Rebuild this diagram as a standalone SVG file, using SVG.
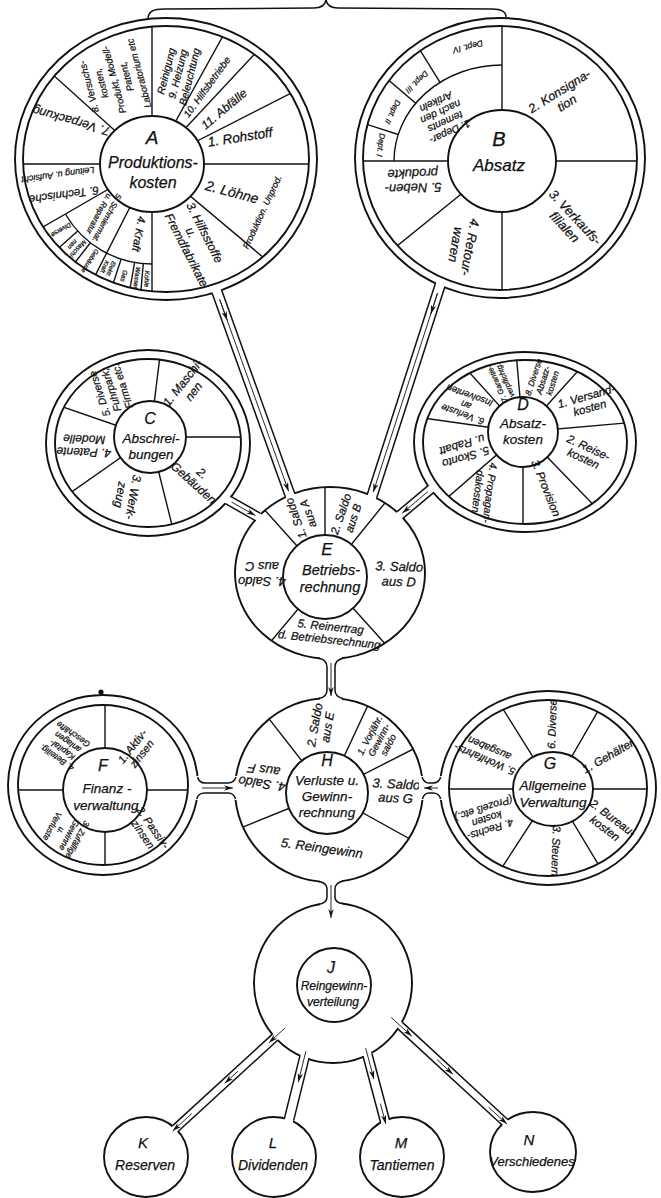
<svg xmlns="http://www.w3.org/2000/svg" width="661" height="1198" viewBox="0 0 661 1198">
<style>
.ln{stroke:#111;stroke-width:1.4;fill:none}
.rg{stroke:#111;stroke-width:1.9;fill:none}
.hub{stroke:#111;stroke-width:1.9;fill:#fff}
.t{font-family:'Liberation Sans',Arial,sans-serif;font-style:italic;fill:#111;stroke:#111;stroke-width:0.25;text-anchor:middle}
.ts{text-anchor:start}
.wall{stroke:#111;stroke-width:1.5;fill:none}
.gap{stroke:#fff;stroke-linecap:butt;fill:none}
.fl{stroke:#111;stroke-width:0.9;fill:none;marker-end:url(#ah)}
</style>
<defs>
<marker id="ah" viewBox="0 0 10 6" refX="10" refY="3" markerWidth="9" markerHeight="5.4" markerUnits="userSpaceOnUse" orient="auto"><path d="M0,0 L10,3 L0,6 L3,3 z" fill="#111"/></marker>
<clipPath id="cA"><ellipse cx="166" cy="159" rx="143" ry="133"/></clipPath>
<clipPath id="cB"><ellipse cx="500" cy="158" rx="137" ry="132"/></clipPath>
<clipPath id="cC"><ellipse cx="148" cy="443" rx="93" ry="84"/></clipPath>
<clipPath id="cD"><ellipse cx="525" cy="442" rx="102" ry="82"/></clipPath>
<clipPath id="cE"><ellipse cx="330" cy="573" rx="95" ry="86"/></clipPath>
<clipPath id="cF"><ellipse cx="103" cy="785" rx="85" ry="80"/></clipPath>
<clipPath id="cG"><ellipse cx="548" cy="788" rx="99" ry="88"/></clipPath>
<clipPath id="cH"><ellipse cx="329" cy="790" rx="94" ry="92"/></clipPath>
</defs>
<rect x="0" y="0" width="661" height="1198" fill="#fff"/>

<g id="brace"><path class="wall" d="M148,19 C148,11 154,9 164,9 L314,8 C321,8 325,5 326,0 M326,0 C327,5 331,8 338,8 L492,9 C501,9 506,11 506,17"/></g>

<g id="nodeA">
<ellipse class="rg" cx="166" cy="159" rx="151" ry="141"/>
<ellipse class="rg" cx="166" cy="159" rx="143" ry="133"/>
<g clip-path="url(#cA)" class="ln">
<line x1="152" y1="164" x2="402" y2="164"/>
<line x1="152" y1="164" x2="343.5" y2="324.7"/>
<line x1="152" y1="164" x2="152" y2="414"/>
<line x1="152" y1="164" x2="38.5" y2="386.8"/>
<line x1="152" y1="164" x2="-64.5" y2="289"/>
<line x1="152" y1="164" x2="-98" y2="164"/>
<line x1="152" y1="164" x2="-33.8" y2="-3.3"/>
<line x1="152" y1="164" x2="152" y2="-86"/>
<line x1="152" y1="164" x2="273.2" y2="-54.7"/>
<line x1="152" y1="164" x2="322.5" y2="-18.8"/>
<line x1="152" y1="164" x2="374.8" y2="50.5"/>
<path d="M152,264 A100,100 0 0 1 65.4,214"/>
<line x1="143.3" y1="263.6" x2="130.2" y2="413"/>
<line x1="134.6" y1="262.5" x2="108.6" y2="410.2"/>
<line x1="121.1" y1="259.1" x2="74.7" y2="401.8"/>
<line x1="90.4" y1="242.8" x2="-1.9" y2="361"/>
<line x1="77.7" y1="230.9" x2="-33.8" y2="331.3"/>
</g>
<ellipse class="hub" cx="152" cy="164" rx="52" ry="48"/>
<text class="t" font-size="19" x="152" y="144">A</text>
<text class="t" font-size="16" x="153" y="168">Produktions-</text>
<text class="t" font-size="16" x="153" y="188">kosten</text>
<text class="t" font-size="13.5" transform="translate(240,137) rotate(-9)" y="4.7">1. Rohstoff</text>
<text class="t" font-size="14" transform="translate(232,192) rotate(15)" y="4.9">2. Löhne</text>
<text class="t" font-size="9" transform="translate(262,212) rotate(-65)" y="3.2">Produktion. Unprod.</text>
<text class="t ts" font-size="12" transform="translate(186,205) rotate(63)"><tspan x="0" y="0">3. Hilfsstoffe</tspan><tspan x="22" y="12">u.</tspan><tspan x="0" y="24">Fremdfabrikate</tspan></text>
<text class="t" font-size="11" transform="translate(139,234) rotate(100)" y="3.9">4. Kraft</text>
<text class="t" font-size="8" transform="translate(103,216) rotate(118)"><tspan x="0" y="-1.7">5. Schmiermat.</tspan><tspan x="0" y="7.3">u. Reparatur</tspan></text>
<text class="t" font-size="6.5" transform="translate(147,279) rotate(92)" y="2.3">Kohle</text>
<text class="t" font-size="6.5" transform="translate(137,278) rotate(97)" y="2.3">Wasser</text>
<text class="t" font-size="6.5" transform="translate(124,276) rotate(104)" y="2.3">Gas</text>
<text class="t" font-size="6" transform="translate(108,268) rotate(113)"><tspan x="0" y="-1">Elektr.</tspan><tspan x="0" y="5.5">Kraft</tspan></text>
<text class="t" font-size="6.5" transform="translate(90,261) rotate(122)" y="2.3">Gebäude</text>
<text class="t" font-size="6.5" transform="translate(75,247) rotate(133)"><tspan x="0" y="-1.2">Maschi-</tspan><tspan x="0" y="5.8">nen</tspan></text>
<text class="t" font-size="6.5" transform="translate(61,230) rotate(150)" y="2.3">Diverse</text>
<text class="t" font-size="11.5" transform="translate(64,195) rotate(172)" y="4">6. Technische</text>
<text class="t" font-size="9" transform="translate(58,175) rotate(172)" y="3.2">Leitung u. Aufsicht</text>
<text class="t" font-size="12.5" transform="translate(71,121) rotate(196)" y="4.4">7. Verpackung</text>
<text class="t" font-size="9.5" transform="translate(114,80) rotate(-105)"><tspan x="0" y="-22.7">8. Versuchs-</tspan><tspan x="0" y="-9.7">kosten,</tspan><tspan x="0" y="3.3">Produkt, Modell-</tspan><tspan x="0" y="16.3">Patent,</tspan><tspan x="0" y="29.3">Laboratorium etc</tspan></text>
<text class="t" font-size="10.5" transform="translate(178,74) rotate(-76)"><tspan x="0" y="-8.5">Reinigung</tspan><tspan x="0" y="3.5">9. Heizung</tspan><tspan x="0" y="15.5">Beleuchtung</tspan></text>
<text class="t" font-size="10" transform="translate(207,87) rotate(-54)" y="3.5">10. Hilfsbetriebe</text>
<text class="t" font-size="12" transform="translate(224,109) rotate(-40)" y="4.2">11. Abfälle</text>
</g>

<g id="nodeB">
<ellipse class="rg" cx="500" cy="158" rx="145" ry="140"/>
<ellipse class="rg" cx="500" cy="158" rx="137" ry="132"/>
<g clip-path="url(#cB)" class="ln">
<line x1="502" y1="161" x2="752" y2="161"/>
<line x1="502" y1="161" x2="502" y2="411"/>
<line x1="502" y1="161" x2="307.7" y2="318.3"/>
<line x1="502" y1="161" x2="252" y2="161"/>
<line x1="502" y1="161" x2="502" y2="-89"/>
<path d="M394,161 A108,96 0 0 1 502,65"/>
<line x1="398.2" y1="134.5" x2="309.8" y2="105.9"/>
<line x1="415.7" y1="103.2" x2="342.3" y2="40.6"/>
<line x1="440" y1="82.4" x2="387.3" y2="-2.8"/>
</g>
<ellipse class="hub" cx="502" cy="161" rx="54" ry="51"/>
<text class="t" font-size="20" x="499" y="146">B</text>
<text class="t" font-size="17" x="499" y="171">Absatz</text>
<text class="t" font-size="10.5" transform="translate(443,117) rotate(155)"><tspan x="0" y="-12.8">1. Depar-</tspan><tspan x="0" y="-1.8">tements</tspan><tspan x="0" y="9.2">nach den</tspan><tspan x="0" y="20.2">Artikeln</tspan></text>
<text class="t" font-size="8" transform="translate(381,145) rotate(98)" y="2.8">Dept. I</text>
<text class="t" font-size="8" transform="translate(393,112) rotate(116)" y="2.8">Dept. II</text>
<text class="t" font-size="8" transform="translate(417,82) rotate(136)" y="2.8">Dept. III</text>
<text class="t" font-size="8.5" transform="translate(468,47) rotate(165)" y="3">Dept. IV</text>
<text class="t" font-size="12.5" transform="translate(563,97) rotate(-32)"><tspan x="0" y="-2.6">2. Konsigna-</tspan><tspan x="0" y="11.4">tion</tspan></text>
<text class="t" font-size="13" transform="translate(570,222) rotate(47)"><tspan x="0" y="-2.7">3. Verkaufs-</tspan><tspan x="0" y="11.8">filialen</tspan></text>
<text class="t" font-size="13" transform="translate(463,246) rotate(100)"><tspan x="0" y="-2.7">4. Retour-</tspan><tspan x="0" y="11.8">waren</tspan></text>
<text class="t" font-size="13" transform="translate(413,181) rotate(178)"><tspan x="0" y="-2.7">5. Neben-</tspan><tspan x="0" y="11.8">produkte</tspan></text>
</g>

<g id="nodeC">
<ellipse class="rg" cx="148" cy="443" rx="102" ry="93"/>
<ellipse class="rg" cx="148" cy="443" rx="93" ry="84"/>
<g clip-path="url(#cC)" class="ln">
<line x1="150" y1="437" x2="350" y2="437"/>
<line x1="150" y1="437" x2="198.4" y2="631"/>
<line x1="150" y1="437" x2="-13.8" y2="551.8"/>
<line x1="150" y1="437" x2="-39.2" y2="371.8"/>
<line x1="150" y1="437" x2="174.4" y2="238.4"/>
</g>
<circle class="hub" cx="150" cy="437" r="36"/>
<text class="t" font-size="16" x="150" y="424">C</text>
<text class="t" font-size="13.5" x="151" y="443">Abschrei-</text>
<text class="t" font-size="13.5" x="151" y="459">bungen</text>
<text class="t" font-size="12" transform="translate(188,387) rotate(-52)"><tspan x="0" y="-2.8">1. Maschi-</tspan><tspan x="0" y="11.2">nen</tspan></text>
<text class="t" font-size="12" transform="translate(198,478) rotate(42)"><tspan x="0" y="-2.3">2.</tspan><tspan x="0" y="10.7">Gebäuden</tspan></text>
<text class="t" font-size="12" transform="translate(127,496) rotate(100)"><tspan x="0" y="-2.3">3. Werk-</tspan><tspan x="0" y="10.7">zeug</tspan></text>
<text class="t" font-size="12" transform="translate(84,446) rotate(182)"><tspan x="0" y="-2.3">4. Patente</tspan><tspan x="0" y="10.7">Modelle</tspan></text>
<text class="t" font-size="10.5" transform="translate(111,390) rotate(-108)"><tspan x="0" y="-8.3">5. Diverse</tspan><tspan x="0" y="3.7">Fuhrpark,</tspan><tspan x="0" y="15.7">Firma etc.</tspan></text>
</g>

<g id="nodeD">
<ellipse class="rg" cx="525" cy="442" rx="111" ry="90"/>
<ellipse class="rg" cx="525" cy="442" rx="102" ry="82"/>
<g clip-path="url(#cD)" class="ln">
<line x1="523" y1="432" x2="722.2" y2="414.6"/>
<line x1="523" y1="432" x2="662" y2="575.8"/>
<line x1="523" y1="432" x2="523" y2="632"/>
<line x1="523" y1="432" x2="372" y2="563.2"/>
<line x1="523" y1="432" x2="325" y2="404.2"/>
<line x1="523" y1="432" x2="389.2" y2="283.4"/>
<line x1="523" y1="432" x2="505.6" y2="232.8"/>
<line x1="523" y1="432" x2="656.8" y2="283.4"/>
</g>
<circle class="hub" cx="523" cy="432" r="35"/>
<text class="t" font-size="16" x="523" y="410">D</text>
<text class="t" font-size="13.5" x="523" y="428">Absatz-</text>
<text class="t" font-size="13.5" x="523" y="444">kosten</text>
<text class="t" font-size="11.5" transform="translate(588,402) rotate(-16)"><tspan x="0" y="-2">1. Versand-</tspan><tspan x="0" y="10">kosten</tspan></text>
<text class="t" font-size="11.5" transform="translate(586,453) rotate(25)"><tspan x="0" y="-2">2. Reise-</tspan><tspan x="0" y="10">kosten</tspan></text>
<text class="t" font-size="11.5" transform="translate(546,488) rotate(68)" y="4">3. Provision</text>
<text class="t" font-size="10.5" transform="translate(484,492) rotate(97)"><tspan x="0" y="-2.3">4. Propagan-</tspan><tspan x="0" y="9.7">dakosten</tspan></text>
<text class="t" font-size="11.5" transform="translate(464,451) rotate(163)"><tspan x="0" y="-2.5">5. Skonto</tspan><tspan x="0" y="10.5">u. Rabatt</tspan></text>
<text class="t" font-size="9.5" transform="translate(466,405) rotate(200)"><tspan x="0" y="-6.7">6. Verluste</tspan><tspan x="0" y="3.3">an</tspan><tspan x="0" y="13.3">Insolventen</tspan></text>
<text class="t" font-size="7.5" transform="translate(501,382) rotate(-114)"><tspan x="0" y="-1.7">7. Garantie-</tspan><tspan x="0" y="7">verpflichtg.</tspan></text>
<text class="t" font-size="8.5" transform="translate(543,380) rotate(-72)"><tspan x="0" y="-7">8. Diverse</tspan><tspan x="0" y="3">Absatz-</tspan><tspan x="0" y="13">kosten</tspan></text>
</g>

<g id="nodeE">
<ellipse class="rg" cx="330" cy="573" rx="95" ry="86"/>
<g clip-path="url(#cE)" class="ln">
<line x1="325" y1="577" x2="191.2" y2="428.4"/>
<line x1="325" y1="577" x2="325" y2="377"/>
<line x1="325" y1="577" x2="450.8" y2="421.6"/>
<line x1="325" y1="577" x2="458.8" y2="725.6"/>
<line x1="325" y1="577" x2="196.4" y2="730.2"/>
</g>
<circle class="hub" cx="325" cy="577" r="42"/>
<text class="t" font-size="17" x="327" y="555">E</text>
<text class="t" font-size="14.5" x="331" y="575">Betriebs-</text>
<text class="t" font-size="14.5" x="330" y="592">rechnung</text>
<text class="t" font-size="11.5" transform="translate(302,516) rotate(-110)"><tspan x="0" y="-2.5">1. Saldo</tspan><tspan x="0" y="10.5">aus A</tspan></text>
<text class="t" font-size="11.5" transform="translate(347,516) rotate(-71)"><tspan x="0" y="-2.5">2. Saldo</tspan><tspan x="0" y="10.5">aus B</tspan></text>
<text class="t" font-size="13" transform="translate(399,574) rotate(2)"><tspan x="0" y="-3">3. Saldo</tspan><tspan x="0" y="12">aus D</tspan></text>
<text class="t" font-size="13" transform="translate(262,574) rotate(180)"><tspan x="0" y="-3">4. Saldo</tspan><tspan x="0" y="12">aus C</tspan></text>
<text class="t" font-size="11.5" transform="translate(330,633) rotate(6)"><tspan x="0" y="-2.5">5. Reinertrag</tspan><tspan x="0" y="10.5">d. Betriebsrechnung</tspan></text>
</g>

<g id="nodeF">
<ellipse class="rg" cx="103" cy="785" rx="95" ry="90"/>
<ellipse class="rg" cx="103" cy="785" rx="85" ry="80"/>
<circle cx="101" cy="692" r="2.6" fill="#111"/>
<g clip-path="url(#cF)" class="ln">
<line x1="105" y1="790" x2="305" y2="790"/>
<line x1="105" y1="790" x2="105" y2="990"/>
<line x1="105" y1="790" x2="-95" y2="790"/>
<line x1="105" y1="790" x2="105" y2="590"/>
</g>
<circle class="hub" cx="105" cy="790" r="42"/>
<text class="t" font-size="16" x="103" y="771">F</text>
<text class="t" font-size="13.5" x="107" y="793">Finanz -</text>
<text class="t" font-size="13.5" x="106" y="810">verwaltung</text>
<text class="t" font-size="11" transform="translate(137,750) rotate(-52)"><tspan x="0" y="-2.2">1. Aktiv-</tspan><tspan x="0" y="9.8">zinsen</tspan></text>
<text class="t" font-size="11" transform="translate(148,831) rotate(55)"><tspan x="0" y="-2.2">2. Passiv-</tspan><tspan x="0" y="9.8">zinsen</tspan></text>
<text class="t" font-size="8.5" transform="translate(65,833) rotate(118)"><tspan x="0" y="-11.3">3. Zufällige</tspan><tspan x="0" y="-1.8">Gewinne</tspan><tspan x="0" y="7.7">u.</tspan><tspan x="0" y="17.2">Verluste</tspan></text>
<text class="t" font-size="8.5" transform="translate(65,746) rotate(215)"><tspan x="0" y="-11.3">4. Beteilig.</tspan><tspan x="0" y="-1.8">Kapital-</tspan><tspan x="0" y="7.7">anlagen</tspan><tspan x="0" y="17.2">Geschäfte</tspan></text>
</g>

<g id="nodeG">
<ellipse class="rg" cx="548" cy="788" rx="108" ry="97"/>
<ellipse class="rg" cx="548" cy="788" rx="99" ry="88"/>
<g clip-path="url(#cG)" class="ln">
<line x1="553" y1="789" x2="753" y2="789"/>
<line x1="553" y1="789" x2="656" y2="960.4"/>
<line x1="553" y1="789" x2="444" y2="956.8"/>
<line x1="553" y1="789" x2="353" y2="789"/>
<line x1="553" y1="789" x2="447" y2="619.4"/>
<line x1="553" y1="789" x2="653" y2="615.8"/>
</g>
<ellipse class="hub" cx="553" cy="789" rx="40" ry="37"/>
<text class="t" font-size="16" x="550" y="769">G</text>
<text class="t" font-size="13.5" x="553" y="790">Allgemeine</text>
<text class="t" font-size="13.5" x="553" y="807">Verwaltung</text>
<text class="t" font-size="11.5" transform="translate(608,756) rotate(-30)" y="4">1. Gehälter</text>
<text class="t" font-size="11.5" transform="translate(609,823) rotate(37)"><tspan x="0" y="-2.3">2. Bureau-</tspan><tspan x="0" y="10.7">kosten</tspan></text>
<text class="t" font-size="11" transform="translate(556,851) rotate(92)" y="3.9">3. Steuern</text>
<text class="t" font-size="10.5" transform="translate(487,819) rotate(162)"><tspan x="0" y="-7.3">4. Rechts-</tspan><tspan x="0" y="3.7">kosten</tspan><tspan x="0" y="14.7">(Prozeß etc.)</tspan></text>
<text class="t" font-size="10.5" transform="translate(487,754) rotate(203)"><tspan x="0" y="-2.3">5. Wohlfahrts-</tspan><tspan x="0" y="9.7">ausgaben</tspan></text>
<text class="t" font-size="11" transform="translate(552,724) rotate(-88)" y="3.9">6. Diverse</text>
</g>

<g id="nodeH">
<ellipse class="rg" cx="329" cy="790" rx="94" ry="92"/>
<g clip-path="url(#cH)" class="ln">
<line x1="327" y1="793" x2="411.6" y2="611.8"/>
<line x1="327" y1="793" x2="505.2" y2="702.2"/>
<line x1="327" y1="793" x2="502" y2="890"/>
<line x1="327" y1="793" x2="141.6" y2="868"/>
<line x1="327" y1="793" x2="203.8" y2="635.4"/>
</g>
<circle class="hub" cx="327" cy="793" r="41"/>
<text class="t" font-size="16" x="327" y="766">H</text>
<text class="t" font-size="13.5" x="327" y="785">Verluste u.</text>
<text class="t" font-size="13.5" x="327" y="801">Gewinn-</text>
<text class="t" font-size="13.5" x="327" y="817">rechnung</text>
<text class="t" font-size="9.5" transform="translate(379,740) rotate(-62)"><tspan x="0" y="-7.2">1. Vorjähr.</tspan><tspan x="0" y="3.3">Gewinn-</tspan><tspan x="0" y="13.8">saldo</tspan></text>
<text class="t" font-size="12" transform="translate(321,726) rotate(-80)"><tspan x="0" y="-2.3">2. Saldo</tspan><tspan x="0" y="10.7">aus E</tspan></text>
<text class="t" font-size="13" transform="translate(396,791) rotate(3)"><tspan x="0" y="-2.5">3. Saldo</tspan><tspan x="0" y="11.5">aus G</tspan></text>
<text class="t" font-size="13" transform="translate(263,777) rotate(188)"><tspan x="0" y="-2.5">4. Saldo</tspan><tspan x="0" y="11.5">aus F</tspan></text>
<text class="t" font-size="13" transform="translate(322,848) rotate(8)" y="4.5">5. Reingewinn</text>
</g>

<g id="nodeJ">
<ellipse class="rg" cx="333" cy="983" rx="79" ry="80"/>
<circle class="hub" cx="334" cy="985" r="37"/>
<text class="t" font-size="16" x="331" y="973">J</text>
<text class="t" font-size="12" x="334" y="990">Reingewinn-</text>
<text class="t" font-size="12" x="333" y="1006">verteilung</text>
</g>

<g id="nodeK">
<ellipse class="rg" cx="146" cy="1157" rx="42" ry="40"/>
<text class="t" font-size="15" x="143" y="1148">K</text>
<text class="t" font-size="14" x="145" y="1170">Reserven</text>
</g>
<g id="nodeL">
<ellipse class="rg" cx="274" cy="1157" rx="42" ry="40"/>
<text class="t" font-size="15" x="273" y="1148">L</text>
<text class="t" font-size="14" x="273" y="1170">Dividenden</text>
</g>
<g id="nodeM">
<ellipse class="rg" cx="402" cy="1157" rx="42" ry="40"/>
<text class="t" font-size="15" x="401" y="1148">M</text>
<text class="t" font-size="14" x="402" y="1170">Tantiemen</text>
</g>
<g id="nodeN">
<ellipse class="rg" cx="533" cy="1152" rx="43" ry="40"/>
<text class="t" font-size="15" x="529" y="1145">N</text>
<text class="t" font-size="13" x="532" y="1166">Verschiedenes</text>
</g>

<g id="connectors">
<line class="gap" stroke-width="9" x1="216" y1="289.2" x2="291" y2="497.8"/>
<line class="gap" stroke-width="9" x1="440.9" y1="282.6" x2="371.1" y2="498.9"/>
<line class="gap" stroke-width="8" x1="225.4" y1="498.5" x2="260.6" y2="518.5"/>
<line class="gap" stroke-width="8" x1="433.3" y1="487.1" x2="397.7" y2="516.9"/>
<line class="gap" stroke-width="7" x1="331" y1="655" x2="331" y2="702"/>
<rect x="320" y="655.5" width="22" height="6" fill="#fff"/>
<rect x="320" y="695" width="22" height="6" fill="#fff"/>
<line class="gap" stroke-width="7" x1="331" y1="879" x2="331" y2="906"/>
<rect x="320" y="878" width="22" height="6" fill="#fff"/>
<rect x="320" y="901" width="22" height="6" fill="#fff"/>
<line class="gap" stroke-width="9" x1="195" y1="788" x2="238" y2="788"/>
<rect x="194" y="776" width="7" height="24" fill="#fff"/>
<rect x="232" y="776" width="6" height="24" fill="#fff"/>
<line class="gap" stroke-width="9" x1="443" y1="788" x2="420" y2="788"/>
<rect x="437" y="776" width="7" height="24" fill="#fff"/>
<rect x="419" y="776" width="7" height="24" fill="#fff"/>
<line class="gap" stroke-width="7" x1="277.1" y1="1035.3" x2="173.4" y2="1130.4"/>
<line class="gap" stroke-width="8.4" x1="305.2" y1="1054.1" x2="288.3" y2="1122.4"/>
<line class="gap" stroke-width="8.4" x1="366.7" y1="1052.1" x2="385.8" y2="1123.9"/>
<line class="gap" stroke-width="7" x1="397.8" y1="1023.5" x2="507" y2="1124.1"/>

<line class="wall" x1="221.7" y1="290.3" x2="294.7" y2="493.3"/>
<line class="wall" x1="212.3" y1="293.7" x2="285.3" y2="496.7"/>
<line class="wall" x1="444.8" y1="287" x2="376.8" y2="497.5"/>
<line class="wall" x1="435.2" y1="284" x2="367.2" y2="494.5"/>
<line class="wall" x1="230.2" y1="496.1" x2="260.2" y2="513.1"/>
<line class="wall" x1="225.8" y1="503.9" x2="255.8" y2="520.9"/>
<line class="wall" x1="433.9" y1="492.4" x2="402.9" y2="518.4"/>
<line class="wall" x1="428.1" y1="485.6" x2="397.1" y2="511.6"/>
<path class="wall" d="M319,658.3 Q327,660 327,667 L327,690 Q327,697 319,698.6 M343,658.2 Q335,660 335,667 L335,690 Q335,697 343,698.6"/>
<path class="wall" d="M319,881.5 Q327,883 327,889 L327,897 Q327,903 319,904.3 M343,881 Q335,883 335,889 L335,897 Q335,903 343,903.6"/>
<path class="wall" d="M197.6,777 Q199,783 205,783 L228,783 Q234,783 236,777 M196.8,799 Q198,793 205,793 L228,793 Q234,793 235.5,799"/>
<path class="wall" d="M440.7,777 Q439,783 433,783 L429,783 Q424,783 422,777 M440.7,799 Q439,793 433,793 L429,793 Q424,793 422.5,799"/>
<line class="wall" x1="277.6" y1="1040.3" x2="178.3" y2="1131.3"/>
<line class="wall" x1="272.2" y1="1034.4" x2="172.9" y2="1125.4"/>
<line class="wall" x1="309.1" y1="1058.1" x2="293.6" y2="1120.6"/>
<line class="wall" x1="299.9" y1="1055.9" x2="284.4" y2="1118.4"/>
<line class="wall" x1="372" y1="1053.8" x2="389.5" y2="1119.8"/>
<line class="wall" x1="363" y1="1056.2" x2="380.5" y2="1122.2"/>
<line class="wall" x1="402.7" y1="1022.6" x2="507.5" y2="1119.2"/>
<line class="wall" x1="397.3" y1="1028.4" x2="502.1" y2="1125"/>

<line class="fl" x1="219.7" y1="299.5" x2="288.6" y2="491.2"/>
<line class="fl" x1="219.7" y1="299.5" x2="227.2" y2="320.2"/>
<line class="fl" x1="437.5" y1="293.1" x2="373.2" y2="492.2"/>
<line class="fl" x1="437.5" y1="293.1" x2="430.8" y2="314"/>
<line class="fl" x1="231.5" y1="502" x2="255.4" y2="515.5"/>
<line class="fl" x1="427.9" y1="491.6" x2="402.3" y2="513.1"/>
<line class="fl" x1="331" y1="663" x2="331" y2="696"/>
<line class="fl" x1="202" y1="788" x2="233" y2="788"/>
<line class="fl" x1="438" y1="788" x2="424" y2="788"/>
<line class="fl" x1="331" y1="885" x2="331" y2="918"/>
<line class="fl" x1="285.2" y1="1027.8" x2="269" y2="1042.7"/>
<line class="fl" x1="238" y1="1071.1" x2="224.8" y2="1083.3"/>
<line class="fl" x1="191.8" y1="1113.5" x2="172.7" y2="1131.1"/>
<line class="fl" x1="305.9" y1="1051.2" x2="298.2" y2="1082.2"/>
<line class="fl" x1="365.7" y1="1048.2" x2="373.9" y2="1079.2"/>
<line class="fl" x1="380.4" y1="1103.6" x2="385.8" y2="1123.9"/>
<line class="fl" x1="391.2" y1="1017.4" x2="411.8" y2="1036.3"/>
<line class="fl" x1="436.8" y1="1059.4" x2="452.9" y2="1074.3"/>
<line class="fl" x1="488.6" y1="1107.2" x2="507" y2="1124.1"/>
</g>
</svg>
